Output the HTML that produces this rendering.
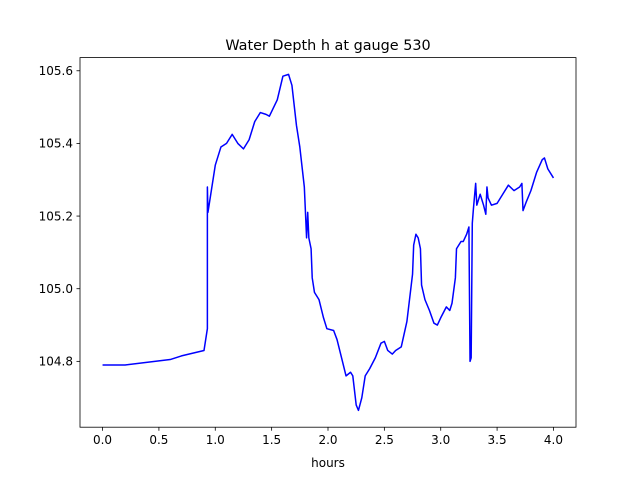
<!DOCTYPE html>
<html><head><meta charset="utf-8"><style>
body{margin:0;background:#fff;}
svg text{font-family:"DejaVu Sans","Liberation Sans",sans-serif;}
</style></head><body>
<svg id="chart" width="640" height="480" xmlns="http://www.w3.org/2000/svg">
<rect width="640" height="480" fill="#fff"/>
<text x="328" y="50" font-size="14.4" text-anchor="middle">Water Depth h at gauge 530</text>
<g id="plot"></g>
<rect x="80" y="57.6" width="496" height="369.6" fill="none" stroke="#000" stroke-width="0.8"/>
<text x="328" y="467" font-size="12" text-anchor="middle">hours</text>
</svg>
<script>
const hours=[0,0.2,0.6,0.7,0.9,0.93,0.93,0.935,0.96,1.0,1.05,1.1,1.15,1.2,1.25,1.3,1.35,1.4,1.45,1.48,1.55,1.6,1.65,1.68,1.72,1.75,1.79,1.81,1.82,1.83,1.85,1.86,1.88,1.92,1.96,1.99,2.05,2.08,2.12,2.16,2.2,2.22,2.25,2.27,2.3,2.33,2.37,2.42,2.47,2.5,2.53,2.57,2.6,2.65,2.7,2.75,2.76,2.78,2.8,2.82,2.83,2.86,2.9,2.94,2.97,3.0,3.05,3.08,3.1,3.13,3.14,3.18,3.2,3.23,3.25,3.26,3.27,3.28,3.29,3.31,3.32,3.35,3.38,3.4,3.41,3.42,3.45,3.5,3.55,3.6,3.65,3.7,3.72,3.73,3.76,3.8,3.85,3.9,3.92,3.95,4.0];
const depth=[104.79,104.79,104.805,104.815,104.83,104.89,105.28,105.21,105.26,105.34,105.39,105.40,105.425,105.40,105.385,105.41,105.46,105.485,105.48,105.475,105.52,105.585,105.59,105.56,105.45,105.39,105.28,105.14,105.21,105.14,105.11,105.03,104.99,104.97,104.92,104.89,104.885,104.86,104.81,104.76,104.77,104.76,104.68,104.665,104.70,104.76,104.78,104.81,104.85,104.855,104.83,104.82,104.83,104.84,104.91,105.04,105.12,105.15,105.14,105.11,105.01,104.97,104.94,104.905,104.90,104.92,104.95,104.94,104.96,105.03,105.11,105.13,105.13,105.15,105.17,104.80,104.81,105.18,105.22,105.29,105.23,105.26,105.23,105.205,105.28,105.25,105.23,105.235,105.26,105.285,105.27,105.28,105.29,105.215,105.24,105.27,105.32,105.355,105.36,105.33,105.305];
const xTicks=[0,0.5,1,1.5,2,2.5,3,3.5,4];
const xTickLabels=["0.0","0.5","1.0","1.5","2.0","2.5","3.0","3.5","4.0"];
const yTicks=[104.8,105.0,105.2,105.4,105.6];
const yTickLabels=["104.8","105.0","105.2","105.4","105.6"];
const L=80,R=576,T=57.6,B=427.2;
const xmin=-0.2,xmax=4.2;
const dmin=Math.min(...depth),dmax=Math.max(...depth),pad=(dmax-dmin)*0.05;
const ymin=dmin-pad,ymax=dmax+pad;
const sx=v=>L+(v-xmin)/(xmax-xmin)*(R-L);
const sy=v=>B-(v-ymin)/(ymax-ymin)*(B-T);
const NS="http://www.w3.org/2000/svg";
const g=document.getElementById('plot');
function mk(t,a){const e=document.createElementNS(NS,t);for(const k in a)e.setAttribute(k,a[k]);g.appendChild(e);return e;}
xTicks.forEach((v,i)=>{const x=sx(v);
 const l=mk('line',{x1:x,x2:x,y1:B,y2:B+3.5,stroke:'#000','stroke-width':0.8});
 
 
 const t=mk('text',{x:x,y:B+17,'font-size':12,'text-anchor':'middle'});t.textContent=xTickLabels[i];
 
 });
yTicks.forEach((v,i)=>{const y=sy(v);
 const l=mk('line',{x1:L-3.5,x2:L,y1:y,y2:y,stroke:'#000','stroke-width':0.8});
 
 
 const t=mk('text',{x:L-7,y:y+4.3,'font-size':12,'text-anchor':'end'});t.textContent=yTickLabels[i];
 
 });
const p=mk('polyline',{points:hours.map((h,i)=>sx(h)+','+sy(depth[i])).join(' '),fill:'none',stroke:'#0000ff','stroke-width':1.5,'stroke-linejoin':'round'});


</script>
</body></html>
